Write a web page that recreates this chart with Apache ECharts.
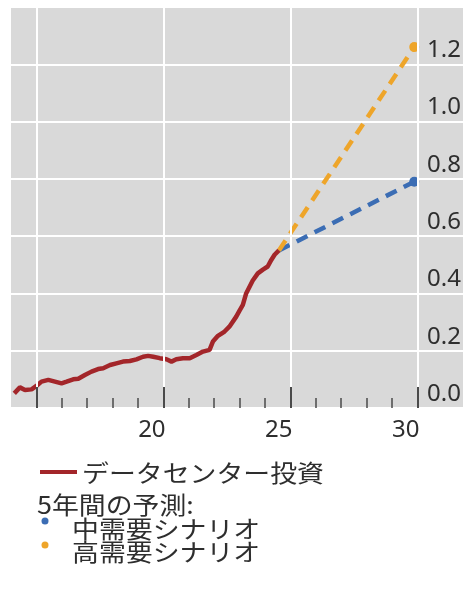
<!DOCTYPE html>
<html>
<head>
<meta charset="utf-8">
<script src="https://cdn.jsdelivr.net/npm/echarts@6/dist/echarts.min.js"></script>
<style>
  html, body { margin: 0; padding: 0; background: #ffffff; }
  #chart { width: 464px; height: 597px; }
</style>
</head>
<body>
<div id="chart"></div>
<script>
// Data centre investment (year offset, value)
const investYears = [14.13, 14.35, 14.55, 14.81, 15.0, 15.2, 15.47, 15.73, 15.99, 16.19,
  16.45, 16.65, 16.91, 17.17, 17.43, 17.63, 17.9, 18.15, 18.41, 18.68,
  18.94, 19.2, 19.4, 19.6, 19.86, 20.12, 20.32, 20.51, 20.77, 21.04,
  21.3, 21.56, 21.82, 21.95, 22.15, 22.41, 22.6, 22.87, 23.0, 23.13,
  23.26, 23.52, 23.72, 23.92, 24.11, 24.25, 24.38, 24.55];
const investValues = [0.051, 0.072, 0.063, 0.065, 0.077, 0.092, 0.098, 0.092, 0.086, 0.092,
  0.100, 0.102, 0.115, 0.127, 0.136, 0.139, 0.150, 0.156, 0.162, 0.164,
  0.170, 0.179, 0.182, 0.179, 0.174, 0.170, 0.162, 0.170, 0.174, 0.174,
  0.185, 0.197, 0.203, 0.232, 0.252, 0.267, 0.284, 0.319, 0.340, 0.360,
  0.400, 0.445, 0.470, 0.483, 0.494, 0.517, 0.535, 0.550];

// Five-year projections: start and end points
const forecastYears = [24.55, 29.88];
const midDemand = [0.55, 0.79];
const highDemand = [0.55, 1.26];

// Axis ticks and labels
const majorTicks = [15, 20, 25, 30];
const minorTicks = [16, 17, 18, 19, 21, 22, 23, 24, 26, 27, 28, 29];
const xLabels = [20, 25, 30];
const yLabels = [0, 0.2, 0.4, 0.6, 0.8, 1.0, 1.2];

const legendMain = 'データセンター投資';
const legendTitle = '5年間の予測:';
const legendMid = '中需要シナリオ';
const legendHigh = '高需要シナリオ';

const RED = '#a3262a';
const BLUE = '#3b6db4';
const ORANGE = '#eea52a';
const TEXT = '#2e2e2e';
const TICK = '#4a4a4a';
const LATIN = '"Noto Sans", "Open Sans", sans-serif';
const CJK = '"Noto Sans CJK JP", "Noto Sans", sans-serif';

function pairs(xs, ys) { return xs.map((x, i) => [x, ys[i]]); }
function forecast(ys) {
  const d = pairs(forecastYears, ys);
  return [{ value: d[0], symbol: 'none' }, { value: d[1] }];
}
// legend text, slightly widened
function legendText(text, x, y) {
  return {
    type: 'text', x: x, y: y, scaleX: 1.12, scaleY: 1,
    style: { text: text, font: '24px ' + CJK, fill: TEXT, textVerticalAlign: 'middle' }
  };
}

const chart = echarts.init(document.getElementById('chart'), null, { renderer: 'canvas' });

chart.setOption({
  animation: false,
  backgroundColor: '#ffffff',
  grid: {
    left: 11, right: 0, top: 7, bottom: 189,
    show: true, backgroundColor: '#d9d9d9', borderWidth: 0
  },
  xAxis: [
    {
      // yearly minor ticks
      type: 'value', min: 14, max: 31.8, position: 'bottom', z: 10,
      axisLine: { show: false },
      axisTick: { show: true, inside: true, length: 10, customValues: minorTicks,
        lineStyle: { color: TICK, width: 1.5 } },
      axisLabel: { show: false },
      splitLine: { show: false }
    },
    {
      // five-year major ticks and labels
      type: 'value', min: 14, max: 31.8, position: 'bottom', z: 10,
      axisLine: { show: false },
      axisTick: { show: true, inside: true, length: 21, customValues: majorTicks,
        lineStyle: { color: TICK, width: 2 } },
      axisLabel: { show: true, customValues: xLabels, margin: 10,
        fontSize: 24, fontFamily: LATIN, color: TEXT,
        align: 'center', padding: [0, 23, 0, 0] },
      splitLine: { show: false }
    }
  ],
  yAxis: {
    type: 'value', position: 'right', min: 0, max: 1.4, interval: 0.2,
    axisLine: { show: false },
    axisTick: { show: false },
    splitLine: { show: true, lineStyle: { color: '#ffffff', width: 2 } },
    axisLabel: {
      inside: true, margin: 2, align: 'right', verticalAlign: 'bottom',
      padding: [0, 0, 2, 0],
      fontSize: 24, fontFamily: LATIN, color: TEXT,
      customValues: yLabels,
      formatter: v => v.toFixed(1)
    }
  },
  series: [
    {
      // vertical grid lines every five years
      type: 'line', xAxisIndex: 1, data: [], z: 1, silent: true,
      markLine: {
        silent: true, symbol: ['none', 'none'], label: { show: false },
        lineStyle: { color: '#ffffff', width: 2, type: 'solid' },
        data: majorTicks.map(x => ({ xAxis: x }))
      }
    },
    {
      name: legendMid, type: 'line', xAxisIndex: 1, data: forecast(midDemand),
      symbol: 'circle', symbolSize: 10, z: 3,
      itemStyle: { color: BLUE },
      lineStyle: { color: BLUE, width: 4.5, type: [12, 8] }
    },
    {
      name: legendHigh, type: 'line', xAxisIndex: 1, data: forecast(highDemand),
      symbol: 'circle', symbolSize: 10, z: 3,
      itemStyle: { color: ORANGE },
      lineStyle: { color: ORANGE, width: 4.5, type: [12, 8] }
    },
    {
      name: legendMain, type: 'line', xAxisIndex: 1, data: pairs(investYears, investValues),
      showSymbol: false, symbol: 'none', z: 4,
      lineStyle: { color: RED, width: 4.5 }
    }
  ],
  graphic: [
    { type: 'line', shape: { x1: 40, y1: 472, x2: 77, y2: 472 },
      style: { stroke: RED, lineWidth: 4 } },
    legendText(legendMain, 82, 473),
    legendText(legendTitle, 37, 505),
    { type: 'circle', shape: { cx: 45, cy: 521, r: 3.5 }, style: { fill: BLUE } },
    legendText(legendMid, 72, 529),
    { type: 'circle', shape: { cx: 45, cy: 545, r: 3.5 }, style: { fill: ORANGE } },
    legendText(legendHigh, 72, 552)
  ]
});
</script>
</body>
</html>
